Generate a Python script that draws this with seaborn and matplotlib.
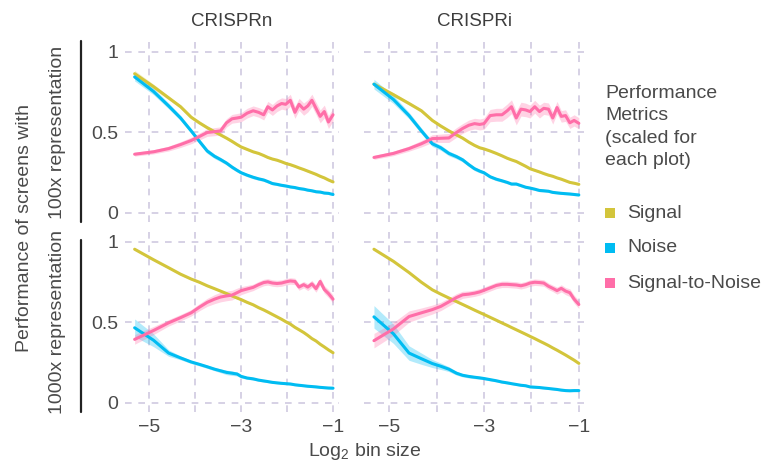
import numpy as np
import pandas as pd
import seaborn as sns
import matplotlib.pyplot as plt
from matplotlib.lines import Line2D
from matplotlib.patches import Rectangle

# ---- data ---------------------------------------------------------------
log2_bin = [-5.32, -4.91, -4.58, -4.32, -4.09, -3.91, -3.74, -3.58, -3.45, -3.32,
            -3.20, -3.09, -3.00, -2.87, -2.74, -2.62, -2.51, -2.42, -2.32, -2.22,
            -2.12, -2.03, -1.93, -1.83, -1.74, -1.64, -1.55, -1.46, -1.37, -1.28,
            -1.19, -1.10, -1.00]

screens = ["CRISPRn", "CRISPRi"]
representations = ["100x", "1000x"]
metrics = ["Signal", "Noise", "Signal-to-Noise"]
metric_colors = ["#d3c53b", "#00bcf2", "#ff6ea8"]

# CRISPRn, 100x representation
signal_n100 = [0.865, 0.785, 0.715, 0.66, 0.595, 0.56, 0.53, 0.505, 0.485, 0.465,
               0.445, 0.425, 0.41, 0.395, 0.38, 0.37, 0.357, 0.345, 0.335, 0.328,
               0.318, 0.308, 0.30, 0.29, 0.28, 0.27, 0.26, 0.25, 0.24, 0.228,
               0.218, 0.205, 0.193]
noise_n100 = [0.845, 0.755, 0.665, 0.59, 0.51, 0.445, 0.385, 0.352, 0.332, 0.31,
              0.285, 0.265, 0.25, 0.235, 0.222, 0.212, 0.205, 0.195, 0.183, 0.178,
              0.172, 0.168, 0.162, 0.158, 0.152, 0.148, 0.142, 0.138, 0.132, 0.13,
              0.124, 0.122, 0.115]
stn_n100 = [0.365, 0.38, 0.40, 0.425, 0.45, 0.475, 0.50, 0.505, 0.51, 0.56,
            0.585, 0.59, 0.595, 0.62, 0.635, 0.625, 0.61, 0.66, 0.64, 0.665,
            0.68, 0.675, 0.70, 0.625, 0.675, 0.645, 0.665, 0.70, 0.65, 0.60,
            0.63, 0.565, 0.61]
signal_n100_ci = [0.02, 0.015, 0.012, 0.01, 0.01, 0.01, 0.01, 0.008, 0.008, 0.008,
                  0.008, 0.007, 0.007, 0.007, 0.007, 0.006, 0.006, 0.006, 0.006, 0.006,
                  0.006, 0.006, 0.006, 0.006, 0.006, 0.006, 0.006, 0.006, 0.006, 0.006,
                  0.006, 0.006, 0.006]
noise_n100_ci = [0.025, 0.02, 0.018, 0.016, 0.015, 0.015, 0.015, 0.014, 0.013, 0.012,
                 0.012, 0.011, 0.01, 0.01, 0.01, 0.009, 0.009, 0.009, 0.008, 0.008,
                 0.008, 0.008, 0.008, 0.008, 0.008, 0.007, 0.007, 0.007, 0.007, 0.007,
                 0.007, 0.007, 0.007]
stn_n100_ci = [0.012, 0.013, 0.015, 0.018, 0.02, 0.022, 0.024, 0.025, 0.025, 0.026,
               0.027, 0.028, 0.028, 0.03, 0.03, 0.03, 0.032, 0.033, 0.034, 0.035,
               0.035, 0.036, 0.037, 0.037, 0.037, 0.038, 0.038, 0.038, 0.038, 0.04,
               0.04, 0.04, 0.04]

# CRISPRi, 100x representation
signal_i100 = [0.80, 0.735, 0.68, 0.635, 0.575, 0.54, 0.51, 0.485, 0.465, 0.44,
               0.42, 0.405, 0.398, 0.385, 0.37, 0.355, 0.34, 0.33, 0.32, 0.305,
               0.29, 0.275, 0.265, 0.255, 0.245, 0.235, 0.228, 0.218, 0.21, 0.20,
               0.19, 0.185, 0.178]
noise_i100 = [0.80, 0.705, 0.605, 0.51, 0.43, 0.405, 0.37, 0.35, 0.33, 0.30,
              0.275, 0.26, 0.25, 0.225, 0.21, 0.20, 0.19, 0.18, 0.18, 0.17,
              0.16, 0.155, 0.148, 0.14, 0.138, 0.135, 0.128, 0.125, 0.122, 0.12,
              0.118, 0.115, 0.112]
stn_i100 = [0.345, 0.37, 0.40, 0.43, 0.462, 0.464, 0.466, 0.50, 0.525, 0.545,
            0.555, 0.55, 0.555, 0.605, 0.61, 0.61, 0.635, 0.66, 0.59, 0.645,
            0.64, 0.63, 0.66, 0.63, 0.65, 0.645, 0.59, 0.655, 0.60, 0.605,
            0.56, 0.575, 0.557]
signal_i100_ci = [0.015, 0.012, 0.01, 0.01, 0.009, 0.009, 0.008, 0.008, 0.008, 0.007,
                  0.007, 0.007, 0.007, 0.006, 0.006, 0.006, 0.006, 0.006, 0.006, 0.006,
                  0.006, 0.006, 0.006, 0.006, 0.006, 0.006, 0.006, 0.006, 0.006, 0.006,
                  0.006, 0.006, 0.006]
noise_i100_ci = [0.03, 0.025, 0.02, 0.018, 0.017, 0.016, 0.015, 0.014, 0.013, 0.012,
                 0.012, 0.011, 0.01, 0.01, 0.01, 0.009, 0.009, 0.009, 0.008, 0.008,
                 0.008, 0.008, 0.008, 0.008, 0.008, 0.007, 0.007, 0.007, 0.007, 0.007,
                 0.007, 0.007, 0.007]
stn_i100_ci = [0.012, 0.014, 0.016, 0.02, 0.024, 0.026, 0.028, 0.03, 0.03, 0.032,
               0.033, 0.034, 0.035, 0.038, 0.04, 0.04, 0.042, 0.043, 0.043, 0.043,
               0.042, 0.04, 0.04, 0.04, 0.038, 0.038, 0.038, 0.038, 0.036, 0.036,
               0.035, 0.035, 0.035]

# CRISPRn, 1000x representation
signal_n1000 = [0.955, 0.89, 0.84, 0.80, 0.77, 0.75, 0.728, 0.71, 0.695, 0.68,
                0.665, 0.652, 0.642, 0.625, 0.61, 0.592, 0.578, 0.565, 0.55, 0.535,
                0.52, 0.505, 0.49, 0.47, 0.455, 0.438, 0.42, 0.40, 0.385, 0.365,
                0.348, 0.33, 0.312]
noise_n1000 = [0.467, 0.39, 0.31, 0.28, 0.255, 0.24, 0.225, 0.21, 0.20, 0.19,
               0.185, 0.18, 0.165, 0.155, 0.15, 0.142, 0.137, 0.133, 0.128, 0.125,
               0.122, 0.12, 0.118, 0.113, 0.11, 0.107, 0.104, 0.102, 0.10, 0.097,
               0.095, 0.093, 0.092]
stn_n1000 = [0.395, 0.45, 0.498, 0.53, 0.56, 0.595, 0.625, 0.645, 0.658, 0.665,
             0.67, 0.685, 0.698, 0.708, 0.718, 0.735, 0.748, 0.752, 0.745, 0.742,
             0.745, 0.752, 0.758, 0.755, 0.72, 0.735, 0.72, 0.74, 0.71, 0.755,
             0.705, 0.68, 0.645]
signal_n1000_ci = [0.006] * 33
noise_n1000_ci = [0.055, 0.04, 0.02, 0.012, 0.01, 0.01, 0.01, 0.01, 0.012, 0.014,
                  0.014, 0.012, 0.01, 0.008, 0.008, 0.007, 0.007, 0.007, 0.006, 0.006,
                  0.006, 0.006, 0.006, 0.006, 0.006, 0.006, 0.006, 0.006, 0.006, 0.006,
                  0.006, 0.006, 0.006]
stn_n1000_ci = [0.03, 0.025, 0.02, 0.02, 0.02, 0.022, 0.025, 0.028, 0.03, 0.03,
                0.03, 0.028, 0.025, 0.022, 0.02, 0.02, 0.02, 0.02, 0.02, 0.02,
                0.02, 0.02, 0.02, 0.02, 0.02, 0.02, 0.022, 0.022, 0.022, 0.024,
                0.024, 0.025, 0.025]

# CRISPRi, 1000x representation
signal_i1000 = [0.955, 0.88, 0.81, 0.75, 0.703, 0.676, 0.652, 0.63, 0.612, 0.594,
                0.577, 0.562, 0.55, 0.532, 0.514, 0.497, 0.482, 0.469, 0.455, 0.441,
                0.427, 0.414, 0.40, 0.385, 0.372, 0.357, 0.342, 0.328, 0.313, 0.298,
                0.282, 0.266, 0.246]
noise_i1000 = [0.535, 0.43, 0.31, 0.275, 0.245, 0.228, 0.21, 0.185, 0.172, 0.165,
               0.16, 0.156, 0.152, 0.145, 0.138, 0.13, 0.125, 0.12, 0.115, 0.11,
               0.107, 0.10, 0.098, 0.096, 0.093, 0.09, 0.087, 0.084, 0.08, 0.077,
               0.076, 0.077, 0.077]
stn_i1000 = [0.387, 0.46, 0.537, 0.56, 0.58, 0.60, 0.628, 0.655, 0.672, 0.676,
             0.682, 0.69, 0.70, 0.715, 0.73, 0.737, 0.737, 0.735, 0.733, 0.728,
             0.735, 0.745, 0.75, 0.748, 0.745, 0.725, 0.712, 0.698, 0.712, 0.695,
             0.685, 0.645, 0.612]
signal_i1000_ci = [0.006] * 33
noise_i1000_ci = [0.07, 0.06, 0.045, 0.035, 0.025, 0.02, 0.015, 0.012, 0.01, 0.01,
                  0.009, 0.009, 0.008, 0.008, 0.007, 0.007, 0.007, 0.006, 0.006, 0.006,
                  0.006, 0.006, 0.006, 0.006, 0.006, 0.006, 0.006, 0.006, 0.006, 0.006,
                  0.006, 0.006, 0.006]
stn_i1000_ci = [0.045, 0.04, 0.035, 0.03, 0.028, 0.026, 0.025, 0.024, 0.022, 0.02,
                0.02, 0.02, 0.02, 0.02, 0.02, 0.02, 0.02, 0.02, 0.02, 0.02,
                0.02, 0.02, 0.02, 0.02, 0.02, 0.02, 0.02, 0.022, 0.022, 0.022,
                0.024, 0.025, 0.025]

x_ticks = [-5, -4, -3, -2, -1]
x_tick_labels = ["\u22125", "", "\u22123", "", "\u22121"]
y_ticks = [0, 0.5, 1]
y_tick_labels = ["0", "0.5", "1"]

series = {
    ("100x", "CRISPRn"): [(signal_n100, signal_n100_ci), (noise_n100, noise_n100_ci), (stn_n100, stn_n100_ci)],
    ("100x", "CRISPRi"): [(signal_i100, signal_i100_ci), (noise_i100, noise_i100_ci), (stn_i100, stn_i100_ci)],
    ("1000x", "CRISPRn"): [(signal_n1000, signal_n1000_ci), (noise_n1000, noise_n1000_ci), (stn_n1000, stn_n1000_ci)],
    ("1000x", "CRISPRi"): [(signal_i1000, signal_i1000_ci), (noise_i1000, noise_i1000_ci), (stn_i1000, stn_i1000_ci)],
}

rows = []
for (rep, screen), triples in series.items():
    for metric, (vals, ci) in zip(metrics, triples):
        for x, v, c in zip(log2_bin, vals, ci):
            rows.append(dict(representation=rep, screen=screen, metric=metric,
                             log2_bin=x, value=v, lo=v - c, hi=v + c))
df = pd.DataFrame(rows)

# ---- style ---------------------------------------------------------------
sns.set_theme(style="white")
plt.rcParams["font.family"] = ["Liberation Sans", "DejaVu Sans"]
plt.rcParams["mathtext.default"] = "regular"
text_color = "#4a4a4a"
grid_color = "#cfcae0"
FS = 14

W, H = 771, 467
fig = plt.figure(figsize=(W / 100, H / 100), dpi=100)

def fx(px):
    return px / W

def fy(py):
    return 1 - py / H

col_left = {"CRISPRn": (125, 214), "CRISPRi": (364, 221)}
row_bottom = {"100x": 222, "1000x": 412}
AX_H = 180
palette = dict(zip(metrics, metric_colors))

for rep in representations:
    for screen in screens:
        left, width = col_left[screen]
        bottom = row_bottom[rep]
        ax = fig.add_axes([fx(left), fy(bottom), fx(width), AX_H / H])
        sub = df[(df.representation == rep) & (df.screen == screen)]
        for metric in metrics:
            m = sub[sub.metric == metric]
            ax.fill_between(m.log2_bin, m.lo, m.hi, color=palette[metric],
                            alpha=0.3, lw=0, zorder=2)
        sns.lineplot(data=sub, x="log2_bin", y="value", hue="metric",
                     hue_order=metrics, palette=palette, errorbar=None,
                     legend=False, lw=2.2, ax=ax, zorder=3)
        ax.set_xlim(-5.53, -0.87)
        ax.set_ylim(-0.056, 1.062)
        ax.set_xticks(x_ticks)
        ax.set_yticks(y_ticks)
        ax.grid(True, ls=(0, (4, 4)), color=grid_color, lw=1.2, zorder=0)
        ax.set_axisbelow(True)
        for s in ax.spines.values():
            s.set_visible(False)
        ax.tick_params(length=0, labelsize=FS, labelcolor=text_color, pad=5)
        ax.set_xlabel("")
        ax.set_ylabel("")
        if screen == "CRISPRn":
            ax.set_yticklabels(y_tick_labels)
        else:
            ax.set_yticklabels([])
        if rep == "1000x":
            ax.set_xticklabels(x_tick_labels)
        else:
            ax.set_xticklabels([])
        if rep == "100x":
            fig.text(fx(left + width / 2), fy(22), screen, ha="center", va="center",
                     fontsize=13.5, color="#3d3d3d")

# row labels and the overall axis labels
fig.text(fx(25), fy(228), "Performance of screens with", rotation=90,
         ha="center", va="center", fontsize=FS, color=text_color)
fig.text(fx(57), fy(132), "100x representation", rotation=90,
         ha="center", va="center", fontsize=FS, color=text_color)
fig.text(fx(57), fy(322), "1000x representation", rotation=90,
         ha="center", va="center", fontsize=FS, color=text_color)
for y0, y1 in [(41, 222), (240, 412)]:
    fig.add_artist(Line2D([fx(81), fx(81)], [fy(y0), fy(y1)],
                          transform=fig.transFigure, color="#222222", lw=1.6))
fig.text(fx(365), fy(452), "Log$_2$ bin size", ha="center", va="center",
         fontsize=FS, color=text_color)

# legend
fig.text(fx(605), fy(85), "Performance\nMetrics\n(scaled for\neach plot)",
         ha="left", va="top", fontsize=FS, color=text_color, linespacing=1.42)
for metric, color, yc in zip(metrics, metric_colors, [213, 248, 283]):
    fig.add_artist(Rectangle((fx(605), fy(yc + 5)), fx(10), 10 / H,
                             transform=fig.transFigure, color=color, lw=0))
    fig.text(fx(627), fy(yc), metric, ha="left", va="center",
             fontsize=FS, color=text_color)

fig.savefig("out.png", dpi=100)
